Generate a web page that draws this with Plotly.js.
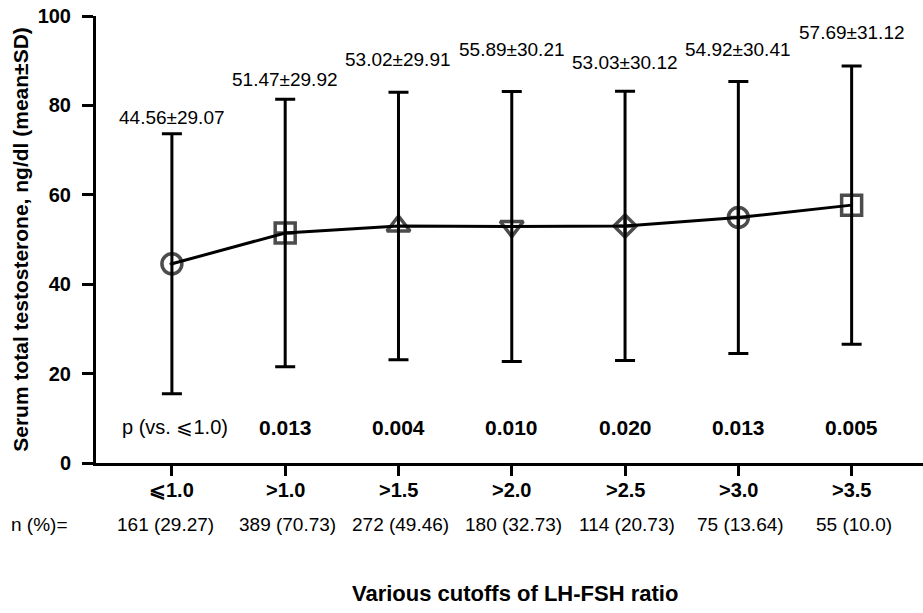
<!DOCTYPE html>
<html>
<head>
<meta charset="utf-8">
<script src="https://cdn.plot.ly/plotly-3.0.1.min.js"></script>
<style>html,body{margin:0;padding:0;background:#fff;}#chart{width:923px;height:613px;}</style>
</head>
<body>
<div id="chart"></div>
<script>
// ---- data ----
const categories = ["⩽1.0", ">1.0", ">1.5", ">2.0", ">2.5", ">3.0", ">3.5"];
const meanValues = [44.56, 51.47, 53.02, 52.9, 53.03, 54.92, 57.69];
const sdValues   = [29.07, 29.92, 29.91, 30.21, 30.12, 30.41, 31.12];
const meanLabels = ["44.56±29.07", "51.47±29.92", "53.02±29.91", "55.89±30.21", "53.03±30.12", "54.92±30.41", "57.69±31.12"];
const nLabels    = ["161 (29.27)", "389 (70.73)", "272 (49.46)", "180 (32.73)", "114 (20.73)", "75 (13.64)", "55 (10.0)"];
const pLabels    = ["p (vs. ⩽1.0)", "0.013", "0.004", "0.010", "0.020", "0.013", "0.005"];
const yTicks     = [0, 20, 40, 60, 80, 100];

// ---- layout-only settings ----
const labelY = [77.2, 85.7, 90.2, 92.4, 89.7, 92.4, 96.2];
const symbols = ["circle-open-dot", "square-cross-open", "triangle-up-open", "triangle-down-open",
                 "diamond-cross-open", "circle-cross-open", "square-open"];
const sizes = [20, 20, 20, 20, 17, 20, 20];
const FONT = "Liberation Sans, Arial, sans-serif";
const PLOT_W = 827, PLOT_H = 447;
const pxToPaperY = py => (463 - py) / PLOT_H;
const pxToPaperX = px => (px - 96) / PLOT_W;

const trace = {
  type: "scatter",
  mode: "lines+markers",
  x: categories,
  y: meanValues,
  line: {color: "#000", width: 3},
  marker: {symbol: symbols, size: sizes, color: "#000", line: {color: "#000", width: 3.5}},
  error_y: {type: "data", array: sdValues, visible: true, color: "#000", thickness: 3, width: 10},
  cliponaxis: false,
  hoverinfo: "skip"
};

const annotations = [];
categories.forEach((c, i) => {
  annotations.push({x: c, y: labelY[i], xref: "x", yref: "y", text: meanLabels[i], showarrow: false,
    font: {family: FONT, size: 19, color: "#000"}, xanchor: "center", yanchor: "middle"});
  annotations.push({x: c, y: pxToPaperY(427), xref: "x", yref: "paper", text: pLabels[i], showarrow: false,
    font: {family: FONT, size: i === 0 ? 20 : 21, color: "#000", weight: i === 0 ? "normal" : "bold"},
    xanchor: "center", yanchor: "middle", xshift: i === 0 ? 3 : 0});
  annotations.push({x: c, y: pxToPaperY(490), xref: "x", yref: "paper", text: c, showarrow: false,
    font: {family: FONT, size: 20, color: "#000", weight: "bold"}, xanchor: "center", yanchor: "middle"});
  annotations.push({x: c, y: pxToPaperY(524), xref: "x", yref: "paper", text: nLabels[i], showarrow: false,
    font: {family: FONT, size: 19, color: "#000"}, xanchor: "center", yanchor: "middle", xshift: i === 0 ? -6 : 2});
});
annotations.push({x: pxToPaperX(9), y: pxToPaperY(524), xref: "paper", yref: "paper", xanchor: "left", text: "n (%)=",
  showarrow: false, font: {family: FONT, size: 19, color: "#000"}, yanchor: "middle"});
annotations.push({x: pxToPaperX(515), y: pxToPaperY(593), xref: "paper", yref: "paper", text: "Various cutoffs of LH-FSH ratio",
  showarrow: false, font: {family: FONT, size: 22, color: "#000", weight: "bold"}, xanchor: "center", yanchor: "middle"});

const layout = {
  width: 923, height: 613,
  margin: {l: 96, r: 0, t: 16, b: 150},
  paper_bgcolor: "#fff", plot_bgcolor: "#fff",
  showlegend: false,
  font: {family: FONT, color: "#000"},
  xaxis: {
    type: "category",
    range: [-0.67, 6.63],
    showline: true, linecolor: "#000", linewidth: 3,
    ticks: "outside", ticklen: 10, tickwidth: 3, tickcolor: "#000",
    showgrid: false, zeroline: false, showticklabels: false,
    fixedrange: true
  },
  yaxis: {
    range: [0, 100],
    tickvals: yTicks,
    showline: true, linecolor: "#000", linewidth: 3,
    ticks: "outside", ticklen: 11, tickwidth: 3, tickcolor: "#000",
    ticklabelstandoff: 7,
    showgrid: false, zeroline: false,
    tickfont: {family: FONT, size: 20, weight: "bold", color: "#000"},
    title: {text: "Serum total testosterone, ng/dl (mean±SD)", standoff: 4,
      font: {family: FONT, size: 21, weight: "bold", color: "#000"}},
    fixedrange: true
  },
  annotations: annotations
};

Plotly.newPlot("chart", [trace], layout, {displayModeBar: false, staticPlot: true});
</script>
</body>
</html>
